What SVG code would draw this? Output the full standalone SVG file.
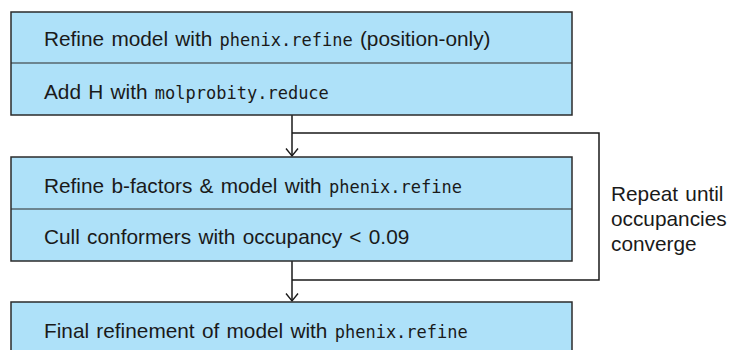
<svg xmlns="http://www.w3.org/2000/svg" width="733" height="350" viewBox="0 0 733 350">
<style>
.box{fill:#aee1f9;stroke:#2b2b2b;stroke-width:1.5}
.div{stroke:#2b2b2b;stroke-width:1.2}
.t{font-family:"Liberation Sans",Arial,sans-serif;font-size:20.8px;fill:#1a1a1a;word-spacing:1.5px}
.m{font-family:"DejaVu Sans Mono","Liberation Mono",monospace;font-size:17px;word-spacing:0}
.c{fill:none;stroke:#1a1a1a;stroke-width:1.5}
</style>
<defs>
<marker id="ah" markerWidth="12" markerHeight="14" refX="8" refY="6.5" orient="auto" markerUnits="userSpaceOnUse">
<path d="M0.5,0.5 L8,6.5 L0.5,12.5" fill="none" stroke="#1a1a1a" stroke-width="1.4"/>
</marker>
</defs>
<rect width="733" height="350" fill="#fff"/>
<g id="connectors">
<path class="c" d="M292,115 V156" marker-end="url(#ah)"/>
<path class="c" d="M292,133 H599 V280 H292"/>
<path class="c" d="M292,261 V301" marker-end="url(#ah)"/>
</g>
<g id="node1">
<rect class="box" x="11" y="12" width="561" height="103"/>
<line class="div" x1="11" y1="63" x2="572" y2="63"/>
<text class="t" x="44" y="46">Refine model with <tspan class="m">phenix.refine</tspan> (position-only)</text>
<text class="t" x="44" y="99">Add H with <tspan class="m">molprobity.reduce</tspan></text>
</g>
<g id="node2">
<rect class="box" x="11" y="157" width="561" height="104"/>
<line class="div" x1="11" y1="209" x2="572" y2="209"/>
<text class="t" x="44" y="193">Refine b-factors &amp; model with <tspan class="m">phenix.refine</tspan></text>
<text class="t" x="44" y="244">Cull conformers with occupancy &lt; 0.09</text>
</g>
<g id="node3">
<rect class="box" x="11" y="302" width="561" height="60"/>
<text class="t" x="44" y="338">Final refinement of model with <tspan class="m">phenix.refine</tspan></text>
</g>
<g id="label">
<text class="t" x="611" y="200.5">Repeat until</text>
<text class="t" x="611" y="225.5">occupancies</text>
<text class="t" x="611" y="250.5">converge</text>
</g>
</svg>
